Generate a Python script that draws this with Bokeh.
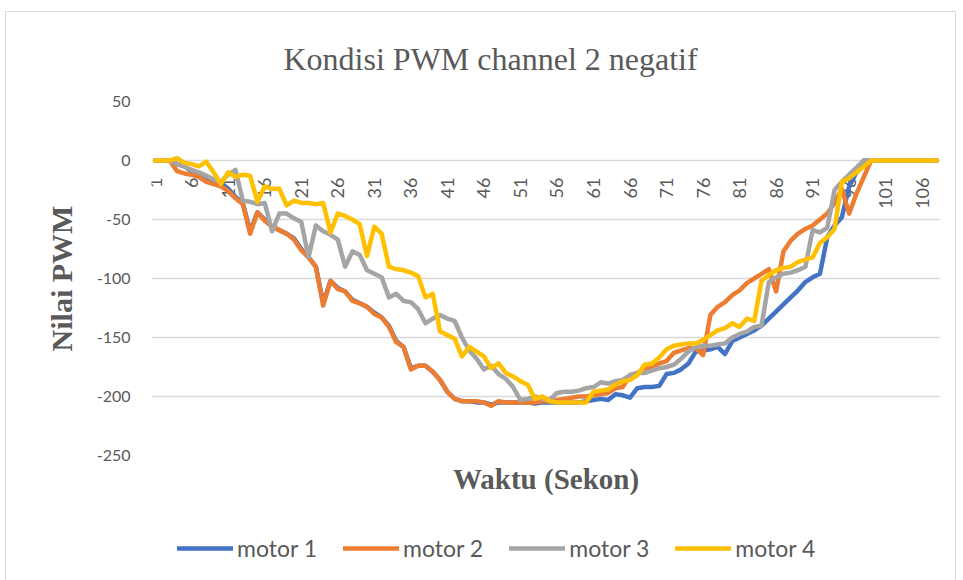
from math import pi
from bokeh.plotting import figure
from bokeh.layouts import column
from bokeh.models import Range1d, FixedTicker, Legend, LegendItem, ColumnDataSource
from bokeh.embed import file_html
from bokeh.resources import INLINE
from bokeh.core.properties import value

# ---------------- data ----------------
categories = list(range(1, 109))

motor1 = [0, 0, 0, -3, -5, -9, -12, -15, -17, -19,
          -24, -31, -36, -60, -44, -50, -56, -59, -62, -66,
          -75, -82, -90, -121, -102, -108, -111, -118, -121, -124,
          -129, -133, -140, -153, -158, -176, -174, -174, -179, -186,
          -196, -202, -204, -204, -205, -205, -207, -205, -205, -205,
          -205, -205, -206, -205, -205, -205, -205, -205, -205, -204,
          -203, -202, -203, -198, -199, -201, -193, -192, -192, -191,
          -181, -180, -177, -172, -162, -161, -160, -158, -164, -153,
          -150, -147, -144, -140, -134, -128, -122, -116, -110, -103,
          -99, -96, -65, -55, -48, -22, -10, 0, 0, 0,
          0, 0, 0, 0, 0, 0, 0, 0]

motor2 = [0, 0, 0, -9, -11, -12, -14, -18, -20, -22,
          -26, -32, -37, -62, -44, -51, -56, -59, -62, -67,
          -76, -82, -90, -123, -102, -109, -111, -119, -121, -124,
          -130, -133, -141, -154, -158, -177, -174, -174, -179, -186,
          -196, -202, -204, -204, -204, -205, -208, -204, -205, -205,
          -205, -205, -205, -204, -204, -203, -202, -201, -200, -200,
          -199, -198, -197, -193, -192, -182, -180, -177, -175, -172,
          -170, -163, -161, -159, -159, -165, -131, -124, -120, -114,
          -110, -104, -100, -96, -92, -111, -77, -68, -62, -58,
          -55, -50, -45, -36, -24, -45, -28, -14, 0, 0,
          0, 0, 0, 0, 0, 0, 0, 0]

motor3 = [0, 0, 0, -3, -5, -8, -10, -13, -16, -18,
          -12, -8, -34, -35, -37, -36, -60, -45, -45, -49,
          -52, -82, -55, -60, -63, -67, -90, -77, -80, -93,
          -96, -99, -116, -113, -119, -120, -126, -138, -134, -131,
          -134, -136, -150, -161, -168, -177, -174, -181, -185, -192,
          -203, -202, -200, -202, -203, -197, -196, -196, -195, -193,
          -192, -188, -189, -187, -186, -182, -180, -180, -178, -176,
          -175, -173, -168, -162, -158, -157, -157, -156, -155, -150,
          -147, -145, -141, -140, -103, -99, -96, -95, -93, -90,
          -59, -61, -57, -25, -18, -12, -6, 0, 0, 0,
          0, 0, 0, 0, 0, 0, 0, 0]

motor4 = [0, 0, 0, 2, -2, -3, -5, -1, -10, -20,
          -10, -14, -12, -13, -35, -22, -24, -24, -38, -34,
          -36, -36, -37, -36, -61, -45, -47, -50, -54, -81,
          -56, -62, -90, -92, -93, -95, -98, -116, -113, -145,
          -148, -151, -166, -158, -162, -166, -176, -172, -180, -183,
          -187, -190, -202, -200, -204, -205, -205, -205, -205, -205,
          -196, -195, -194, -190, -187, -186, -182, -173, -172, -167,
          -160, -157, -156, -155, -155, -152, -148, -144, -142, -138,
          -141, -134, -136, -102, -97, -93, -91, -90, -86, -84,
          -82, -70, -65, -58, -18, -15, -10, -5, 0, 0,
          0, 0, 0, 0, 0, 0, 0, 0]

series_names = ["motor 1", "motor 2", "motor 3", "motor 4"]
series_colors = ["#4472C4", "#ED7D31", "#A5A5A5", "#FFC000"]

x_tick_labels = ["1", "6", "11", "16", "21", "26", "31", "36", "41", "46", "51",
                 "56", "61", "66", "71", "76", "81", "86", "91", "96", "101", "106"]
y_ticks = [-250, -200, -150, -100, -50, 0, 50]

title_text = "Kondisi PWM channel 2 negatif"
x_title = "Waktu (Sekon)"
y_title = "Nilai PWM"

TEXT = "#595959"
series = [motor1, motor2, motor3, motor4]

# ---------------- main figure ----------------
p = figure(width=949, height=493, output_backend="svg", toolbar_location=None,
           x_range=Range1d(0.5, 108.5), y_range=Range1d(-250, 50),
           min_border_left=145, min_border_right=15,
           min_border_top=89, min_border_bottom=50)

p.outline_line_color = None
p.background_fill_color = "white"
p.border_fill_color = "white"

p.title.text = title_text
p.title.text_font = "Liberation Serif"
p.title.text_font_style = "normal"
p.title.text_font_size = "32px"
p.title.text_color = TEXT
p.title.align = "left"
p.title.offset = 132
p.title.standoff = 50

# y axis
p.yaxis.ticker = FixedTicker(ticks=y_ticks)
p.yaxis.major_label_overrides = {t: str(t) for t in y_ticks}
p.yaxis.axis_line_color = None
p.yaxis.major_tick_line_color = None
p.yaxis.minor_tick_line_color = None
p.yaxis.major_label_standoff = 15
p.yaxis.major_label_text_font = "Lato"
p.yaxis.major_label_text_font_size = "16px"
p.yaxis.major_label_text_color = TEXT
p.yaxis.axis_label = y_title
p.yaxis.axis_label_text_font = "Liberation Serif"
p.yaxis.axis_label_text_font_style = "bold"
p.yaxis.axis_label_text_font_size = "30px"
p.yaxis.axis_label_text_color = TEXT
p.yaxis.axis_label_standoff = 16

# x axis (only the title; category labels drawn at y = 0)
p.xaxis.ticker = FixedTicker(ticks=[])
p.xaxis.axis_line_color = None
p.xaxis.major_tick_line_color = None
p.xaxis.minor_tick_line_color = None
p.xaxis.axis_label = x_title
p.xaxis.axis_label_text_font = "Liberation Serif"
p.xaxis.axis_label_text_font_style = "bold"
p.xaxis.axis_label_text_font_size = "29px"
p.xaxis.axis_label_text_color = TEXT
p.xaxis.axis_label_standoff = 7

p.xgrid.visible = False
p.ygrid.grid_line_color = "#D9D9D9"
p.ygrid.grid_line_width = 1.3

# category labels, rotated, hanging below the zero line
lab_src = ColumnDataSource(dict(x=[int(t) for t in x_tick_labels],
                                y=[0] * len(x_tick_labels),
                                t=x_tick_labels))
p.text(x="x", y="y", text="t", source=lab_src, angle=pi / 2,
       text_align="right", text_baseline="middle", y_offset=17,
       text_font=value("Lato"), text_font_size=value("18px"), text_color=TEXT)

for col, vals in zip(series_colors, series):
    p.line(categories, vals, line_color=col, line_width=4.5,
           line_join="round", line_cap="round")

# ---------------- legend strip ----------------
leg = figure(width=949, height=75, output_backend="svg", toolbar_location=None,
             x_range=Range1d(0.5, 108.5), y_range=Range1d(-250, 50),
             min_border_left=145, min_border_right=15, min_border_top=0, min_border_bottom=0)
leg.axis.visible = False
leg.grid.visible = False
leg.outline_line_color = None
leg.border_fill_color = "white"

items = []
for name, col, vals in zip(series_names, series_colors, series):
    # same series, plotted off-range in this strip: only its legend swatch shows
    r = leg.line(categories, [v + 1000 for v in vals], line_color=col, line_width=4.5,
                 line_cap="round")
    items.append(LegendItem(label=name, renderers=[r]))

legend = Legend(items=items, orientation="horizontal", location=(26, 18),
                border_line_color=None, background_fill_alpha=0,
                label_text_font="Lato", label_text_font_size="23px",
                label_text_color=TEXT, glyph_width=56, glyph_height=20,
                label_standoff=4, spacing=26, padding=5, margin=0)
leg.add_layout(legend, "center")

page = column(p, leg, spacing=0,
              styles={"border": "1px solid #D9D9D9", "margin-top": "11px",
                      "margin-left": "5px"})
open("out.html", "w").write(file_html(page, INLINE))
